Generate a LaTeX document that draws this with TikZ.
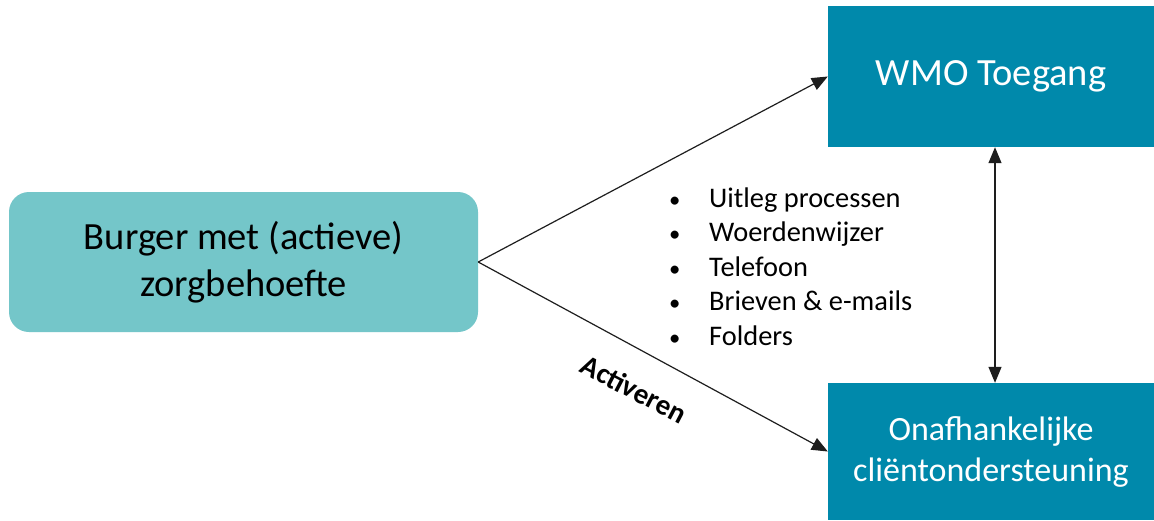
\documentclass[tikz,border=0pt]{standalone}
\usepackage{fontspec}
\setmainfont{Carlito}
\usetikzlibrary{arrows.meta,calc}
\definecolor{lightteal}{RGB}{116,198,201}
\definecolor{darkteal}{RGB}{0,137,171}
\definecolor{linegray}{RGB}{30,30,30}
\newcommand{\smallbul}{\makebox[41pt][l]{\hspace{1pt}\scalebox{0.8}{\textbullet}}}
\begin{document}
\begin{tikzpicture}[x=1pt,y=-1pt,
  conn/.style={draw=linegray, line width=1.2pt, -{Triangle[length=16pt,width=13pt]}},
  dconn/.style={draw=linegray, line width=1.2pt, {Triangle[length=16pt,width=13pt]}-{Triangle[length=16pt,width=13pt]}},
  burgerbox/.style={fill=lightteal, rounded corners=20pt, inner sep=0pt, align=center,
    minimum width=469pt, minimum height=140pt, font=\fontsize{38.5}{47}\selectfont, text=black},
  darkbox/.style={fill=darkteal, inner sep=0pt, align=center, text=white},
  bullettext/.style={anchor=base west, inner sep=0pt, font=\fontsize{28.4}{34.6}\selectfont, text=black},
  lbl/.style={inner sep=0pt, font=\bfseries\fontsize{29}{34}\selectfont, text=black}
]
\useasboundingbox (0,0) rectangle (1154,520);
\fill[white] (0,0) rectangle (1154,520);

\node[burgerbox] (burger) at (243.5,262) {Burger met (actieve)\\zorgbehoefte};
\node[darkbox, minimum width=326pt, minimum height=141pt, font=\fontsize{38.5}{47}\selectfont] (wmo) at (991,76.5) {WMO Toegang};
\node[darkbox, minimum width=326pt, minimum height=137pt, font=\fontsize{34}{41}\selectfont] (onaf) at (991,451.5) {Onafhankelijke\\cliëntondersteuning};

\draw[conn] (burger.east) -- (wmo.west);
\draw[conn] (burger.east) -- (onaf.west);
\draw[dconn] ($(wmo.south)+(4,0)$) -- ($(onaf.north)+(4,0)$);

\node[bullettext] (b1) at (668,207) {\smallbul Uitleg processen};
\node[bullettext] (b2) at (668,241.6) {\smallbul Woerdenwijzer};
\node[bullettext] (b3) at (668,276.2) {\smallbul Telefoon};
\node[bullettext] (b4) at (668,310.8) {\smallbul Brieven \& e-mails};
\node[bullettext] (b5) at (668,345.4) {\smallbul Folders};

\node[lbl, rotate=-27.6] (act) at (634,389) {Activeren};
\end{tikzpicture}
\end{document}
